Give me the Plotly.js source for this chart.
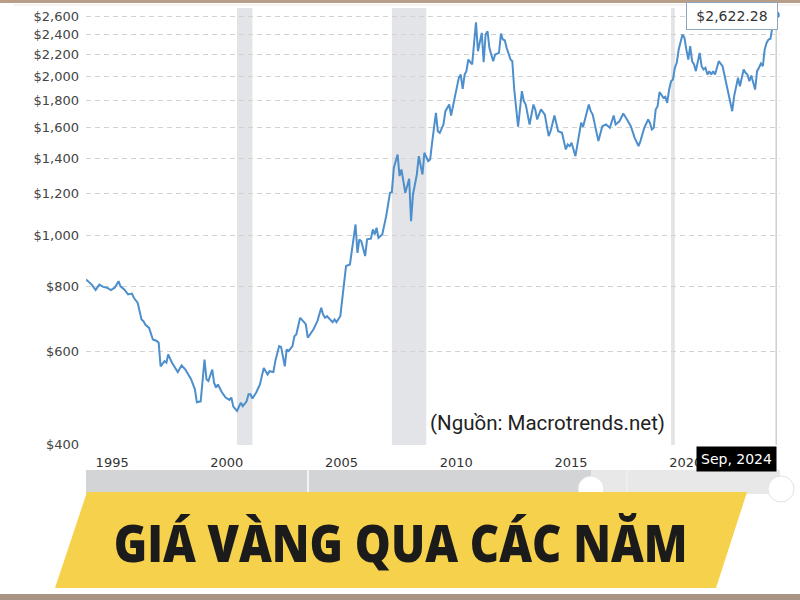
<!DOCTYPE html>
<html>
<head>
<meta charset="utf-8">
<script src="https://cdn.plot.ly/plotly-3.0.1.min.js"></script>
<style>html,body{margin:0;padding:0;background:#fff;}#chart{width:800px;height:600px;}</style>
</head>
<body>
<div id="chart"></div>
<script>
// ---- Data (inflation-adjusted gold price, USD/oz, monthly samples) ----
const months = [
"1994-08","1994-11","1995-01","1995-03","1995-05","1995-07","1995-09","1995-11",
"1996-01","1996-02","1996-04","1996-06","1996-08","1996-09","1996-11",
"1997-01","1997-02","1997-03","1997-05","1997-07","1997-09","1997-10","1997-11",
"1998-01","1998-02","1998-03","1998-05","1998-06","1998-08","1998-10","1998-12",
"1999-01","1999-03","1999-05","1999-06","1999-08","1999-10","1999-11","1999-12",
"2000-02","2000-03","2000-04","2000-05","2000-07","2000-09","2000-11","2000-12",
"2001-01","2001-03","2001-05","2001-06","2001-08","2001-09","2001-10","2001-11",
"2002-01","2002-03","2002-05","2002-07","2002-08","2002-10","2002-11",
"2003-01","2003-02","2003-04","2003-05","2003-06","2003-08","2003-09","2003-10","2003-12",
"2004-02","2004-03","2004-04","2004-06","2004-07","2004-09","2004-11","2004-12",
"2005-01","2005-02","2005-04","2005-05","2005-06","2005-07","2005-09","2005-10","2005-12",
"2006-02","2006-05","2006-06","2006-07","2006-08","2006-10","2006-11",
"2007-01","2007-02","2007-03","2007-04","2007-05","2007-07","2007-09","2007-11","2007-12",
"2008-01","2008-03","2008-04","2008-05","2008-07","2008-09","2008-10","2008-11",
"2009-01","2009-02","2009-04","2009-05","2009-07","2009-08","2009-09","2009-11","2009-12",
"2010-01","2010-03","2010-04","2010-06","2010-07","2010-09","2010-11","2010-12",
"2011-01","2011-02","2011-03","2011-04","2011-06","2011-08","2011-09","2011-11","2011-12",
"2012-01","2012-02","2012-03","2012-05","2012-06","2012-08","2012-09","2012-10","2012-11","2012-12",
"2013-02","2013-03","2013-04","2013-06","2013-08","2013-09","2013-10","2013-12",
"2014-02","2014-03","2014-04","2014-06","2014-08","2014-10","2014-11",
"2015-01","2015-03","2015-05","2015-07","2015-08","2015-09","2015-10","2015-12",
"2016-01","2016-03","2016-04","2016-07","2016-08","2016-09","2016-12",
"2017-02","2017-04","2017-06","2017-08","2017-09","2017-11",
"2018-01","2018-03","2018-05","2018-07","2018-09","2018-10","2018-12",
"2019-02","2019-03","2019-04","2019-05","2019-06","2019-07","2019-08","2019-10","2019-11","2019-12",
"2020-01","2020-02","2020-03","2020-04","2020-05","2020-06","2020-08","2020-09","2020-10","2020-11","2020-12",
"2021-01","2021-02","2021-03","2021-05","2021-06","2021-07","2021-08","2021-09","2021-10","2021-11","2021-12",
"2022-01","2022-03","2022-05","2022-07","2022-08","2022-10","2022-11",
"2023-01","2023-02","2023-04","2023-05","2023-06","2023-07","2023-08","2023-10","2023-11","2023-12",
"2024-01","2024-02","2024-03","2024-04","2024-05","2024-06","2024-07","2024-08","2024-09"
];
const prices = [
823,805,786,805,797,794,786,794,
817,799,788,771,774,760,743,
691,686,676,666,633,629,624,563,
576,572,593,572,563,549,565,555,
547,532,509,481,483,580,532,528,
555,524,513,520,503,491,486,491,
472,463,480,473,483,498,498,489,
502,520,559,543,551,549,576,
615,613,563,606,602,615,642,647,696,
683,676,638,652,662,686,727,706,
696,701,691,683,691,683,701,754,873,
879,1047,925,981,973,912,981,
984,1025,1002,1032,988,1002,1086,1203,1206,
1342,1422,1294,1332,1203,1279,1062,1194,
1303,1412,1303,1433,1381,1391,1497,1707,1575,
1564,1622,1719,1770,1687,1836,1989,2018,
1896,2018,2048,2155,2109,2537,2235,2422,2130,
2404,2439,2268,2139,2203,2219,2415,2352,2345,2268,
2155,2139,1890,1606,1876,1796,1770,1622,
1770,1732,1658,1732,1694,1541,1575,
1687,1575,1564,1454,1486,1475,1497,1412,
1480,1634,1606,1770,1719,1694,1508,
1610,1622,1599,1687,1622,1645,
1702,1658,1610,1530,1475,1508,1599,
1658,1634,1587,1599,1732,1757,1868,1823,1831,1783,
1890,1960,1974,2079,2124,2251,2404,2370,2251,2155,2284,
2139,2109,2048,2219,2093,2063,2079,2018,2048,2018,2048,
2018,2139,2093,1946,1849,1719,1836,
1989,1918,2063,2033,2018,1960,2009,1890,2048,2079,
2118,2093,2251,2319,2352,2360,2480,2540,2622.28
];
const recessionStarts = ["2001-03-01","2007-12-01","2020-02-01"];
const recessionEnds   = ["2001-11-01","2009-06-01","2020-04-01"];
const yTicks = [400,600,800,1000,1200,1400,1600,1800,2000,2200,2400,2600];
const yTickText = yTicks.map(v => "$" + v.toLocaleString("en-US"));
const xTickYears = ["1995","2000","2005","2010","2015","2020"];
const monthNames = ["Jan","Feb","Mar","Apr","May","Jun","Jul","Aug","Sep","Oct","Nov","Dec"];
const titleText = "GIÁ VÀNG QUA CÁC NĂM";
const sourceText = "(Nguồn: Macrotrends.net)";

// ---- Helpers for pixel -> paper placement ----
const L = 86, R = 780, T = 8, B = 445;
const px = X => (X - L) / (R - L);
const py = Y => (B - Y) / (B - T);

const lastDate = months[months.length - 1];
const lastVal = prices[prices.length - 1];
const lastLabel = "$" + lastVal.toLocaleString("en-US", {minimumFractionDigits: 2, maximumFractionDigits: 2});
const [ly, lm] = lastDate.split("-");
const lastDateLabel = monthNames[parseInt(lm, 10) - 1] + ", " + ly;

const lineColor = "#4d8fcc";

const traces = [
  {x: months, y: prices, type: "scatter", mode: "lines",
   line: {color: lineColor, width: 2}, hoverinfo: "skip", cliponaxis: false},
  {x: [lastDate], y: [lastVal], type: "scatter", mode: "markers",
   marker: {color: lineColor, size: 7}, hoverinfo: "skip", cliponaxis: false}
];

const shapes = [];
recessionStarts.forEach((s, i) => {
  shapes.push({type: "rect", xref: "x", yref: "paper", x0: s, x1: recessionEnds[i], y0: 0, y1: 1,
    fillcolor: "#e3e4e7", line: {width: 0}, layer: "below"});
});
// cursor line at last point
shapes.push({type: "line", xref: "x", yref: "paper", x0: lastDate, x1: lastDate, y0: 0, y1: 1,
  line: {color: "#cfcfcf", width: 1.5}, layer: "below"});
// range slider look
shapes.push({type: "rect", xref: "paper", yref: "paper", x0: px(86), x1: px(591), y0: py(470), y1: py(494),
  fillcolor: "#d3d4d6", line: {width: 0}});
shapes.push({type: "rect", xref: "paper", yref: "paper", x0: px(591), x1: px(780), y0: py(470), y1: py(494),
  fillcolor: "#e8e8e9", line: {width: 0}});
shapes.push({type: "line", xref: "paper", yref: "paper", x0: px(308), x1: px(308), y0: py(470), y1: py(494),
  line: {color: "#ffffff", width: 1.5}});
shapes.push({type: "line", xref: "paper", yref: "paper", x0: px(627), x1: px(627), y0: py(470), y1: py(494),
  line: {color: "#f4f4f4", width: 1}});
[591, 781].forEach(cx => {
  shapes.push({type: "circle", xref: "paper", yref: "paper",
    x0: px(cx - 13), x1: px(cx + 13), y0: py(502), y1: py(476),
    fillcolor: "#ffffff", line: {color: "#e2e2e2", width: 1}});
});
// yellow banner
shapes.push({type: "path", xref: "paper", yref: "paper",
  path: `M ${px(87)} ${py(492)} L ${px(747)} ${py(492)} L ${px(716)} ${py(588)} L ${px(55)} ${py(588)} Z`,
  fillcolor: "#f6d14b", line: {width: 0}});
// frame bars
shapes.push({type: "rect", xref: "paper", yref: "paper", x0: px(0), x1: px(800), y0: py(3), y1: py(0),
  fillcolor: "#b89e88", line: {width: 0}});
shapes.push({type: "line", xref: "paper", yref: "paper", x0: px(14), x1: px(800), y0: py(5), y1: py(5),
  line: {color: "#ebe7e3", width: 1}});
shapes.push({type: "rect", xref: "paper", yref: "paper", x0: px(0), x1: px(800), y0: py(600), y1: py(594),
  fillcolor: "#a99382", line: {width: 0}});

const annotations = [
  {xref: "paper", yref: "paper", x: px(547), y: py(423), text: sourceText, showarrow: false,
   xanchor: "center", yanchor: "middle", bgcolor: "#ffffff",
   font: {family: "Roboto, Arial, sans-serif", size: 20.5, color: "#222222"}},
  {xref: "paper", yref: "paper", x: px(732), y: py(16), text: lastLabel, showarrow: false,
   xanchor: "center", yanchor: "middle", bgcolor: "#ffffff", bordercolor: "#8ea6bf", borderwidth: 1,
   borderpad: 4, width: 82, height: 18,
   font: {family: "DejaVu Sans, Verdana, sans-serif", size: 14, color: "#333333"}},
  {xref: "paper", yref: "paper", x: px(736.5), y: py(459), text: lastDateLabel, showarrow: false,
   xanchor: "center", yanchor: "middle", bgcolor: "#000000", borderpad: 4,
   font: {family: "DejaVu Sans, Verdana, sans-serif", size: 14, color: "#ffffff"}},
  {xref: "paper", yref: "paper", x: px(400), y: py(541), text: titleText, showarrow: false,
   xanchor: "center", yanchor: "middle", name: "bannerTitle",
   font: {family: "Open Sans, sans-serif", size: 52, weight: 800, color: "#1b1b1b"}}
];

const layout = {
  width: 800, height: 600,
  margin: {l: L, r: 800 - R, t: T, b: 600 - B, pad: 0},
  paper_bgcolor: "#ffffff", plot_bgcolor: "#ffffff",
  showlegend: false,
  xaxis: {
    type: "date",
    range: ["1994-08-01", "2024-10-31"],
    tickvals: xTickYears.map(y => y + "-01-01"),
    ticktext: xTickYears,
    ticklabelposition: "outside right",
    ticks: "", showgrid: false, zeroline: false, showline: false,
    ticklabelstandoff: 8,
    tickfont: {family: "DejaVu Sans, Verdana, sans-serif", size: 13, color: "#333333"}
  },
  yaxis: {
    type: "log",
    range: [Math.log10(399), Math.log10(2700)],
    tickvals: yTicks,
    ticktext: yTickText,
    ticks: "", showline: false, zeroline: false,
    showgrid: true, gridcolor: "#d2d2d2", gridwidth: 1, griddash: "5px,4px",
    ticklabelstandoff: 6,
    tickfont: {family: "DejaVu Sans, Verdana, sans-serif", size: 13, color: "#444444"}
  },
  shapes: shapes,
  annotations: annotations
};

Plotly.newPlot("chart", traces, layout, {displayModeBar: false, staticPlot: true}).then(gd => {
  // condense the banner title horizontally (the original uses a condensed bold face)
  const texts = gd.querySelectorAll(".annotation-text");
  texts.forEach(t => {
    if (t.textContent === titleText) {
      const bb = t.getBBox();
      const target = 574;
      const s = Math.min(1, target / bb.width);
      t.style.transformBox = "fill-box";
      t.style.transformOrigin = "center";
      t.style.transform = `scaleX(${s})`;
    }
  });
});
</script>
</body>
</html>
